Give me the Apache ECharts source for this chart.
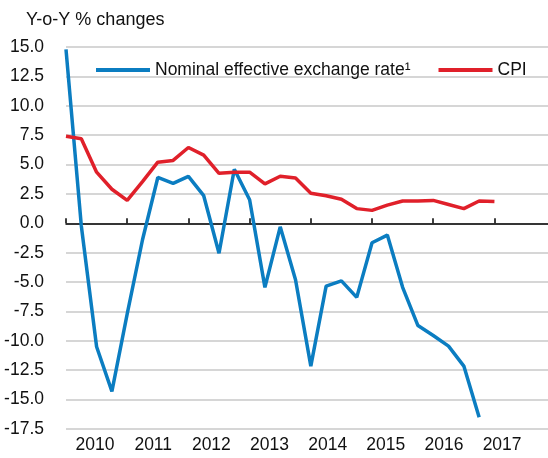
<!DOCTYPE html>
<html>
<head>
<meta charset="utf-8">
<script src="https://cdn.jsdelivr.net/npm/echarts@6/dist/echarts.min.js"></script>
<style>
  html, body { margin: 0; padding: 0; background: #fff; }
  #chart { width: 548px; height: 458px; }
</style>
</head>
<body>
<div id="chart"></div>
<script>
// quarterly points, index 0 = first tick
const years = ['2010', '2011', '2012', '2013', '2014', '2015', '2016', '2017'];
const neer = [14.8, -0.2, -10.5, -14.3, -7.7, -1.4, 3.9, 3.4, 4.0, 2.35, -2.55, 4.6, 2.0, -5.45,
  -0.3, -4.8, -12.15, -5.35, -4.9, -6.3, -1.65, -1.0, -5.45, -8.7, -9.55, -10.45, -12.15, -16.5];
const cpi = [7.4, 7.2, 4.35, 2.9, 1.95, 3.55, 5.2, 5.35, 6.45, 5.8, 4.25, 4.35, 4.35, 3.35, 4.0,
  3.85, 2.55, 2.35, 2.05, 1.25, 1.1, 1.55, 1.9, 1.9, 1.95, 1.6, 1.25, 1.9, 1.85];
const yTicks = [-17.5, 15, 2.5]; // min, max, step

const FONT = '"Liberation Sans", Arial, sans-serif';
const FS = 17.5;

const chart = echarts.init(document.getElementById('chart'));

// year labels sit a bit off the tick grid in the original
const labelPos = years.map((y, k) => +(1.9 + 3.8 * k).toFixed(2));

const option = {
  backgroundColor: '#fff',
  animation: false,
  title: {
    text: 'Y-o-Y % changes',
    left: 21,
    top: 6,
    textStyle: { fontFamily: FONT, fontSize: FS + 0.5, fontWeight: 'normal', color: '#111' }
  },
  legend: {
    left: 91,
    top: 56,
    itemGap: 28,
    itemWidth: 54,
    itemHeight: 4,
    icon: 'rect',
    textStyle: { fontFamily: FONT, fontSize: FS, color: '#111' },
    data: ['Nominal effective exchange rate\u00b9', 'CPI']
  },
  grid: { left: 66, right: 0, top: 47, bottom: 29, outerBoundsMode: 'none' },
  xAxis: [
    {
      type: 'value',
      min: 0,
      max: 31.5,
      axisLine: { onZero: true, lineStyle: { color: '#000', width: 1.5 } },
      axisTick: {
        show: true, inside: true, length: 5,
        customValues: [0, 4, 8, 12, 16, 20, 24, 28],
        lineStyle: { color: '#000', width: 1.5 }
      },
      axisLabel: { show: false },
      splitLine: { show: false }
    },
    {
      type: 'value',
      min: 0,
      max: 31.5,
      position: 'bottom',
      axisLine: { show: false, onZero: false },
      axisTick: { show: false },
      splitLine: { show: false },
      axisLabel: {
        customValues: labelPos,
        margin: 7,
        fontFamily: FONT,
        fontSize: FS,
        color: '#111',
        formatter: (v) => years[labelPos.indexOf(+v.toFixed(2))] || ''
      }
    }
  ],
  yAxis: {
    type: 'value',
    min: yTicks[0],
    max: yTicks[1],
    interval: yTicks[2],
    axisLine: { show: false },
    axisTick: { show: false },
    axisLabel: {
      margin: 22,
      fontFamily: FONT,
      fontSize: FS,
      color: '#111',
      formatter: (v) => v.toFixed(1)
    },
    splitLine: { lineStyle: { color: '#c8c8c8', width: 1.5 } }
  },
  series: [
    {
      name: 'Nominal effective exchange rate\u00b9',
      type: 'line',
      xAxisIndex: 0,
      color: '#0b7dc1',
      symbol: 'none',
      lineStyle: { width: 3.5, color: '#0b7dc1' },
      data: neer.map((v, i) => [i, v]),
      z: 3
    },
    {
      name: 'CPI',
      type: 'line',
      xAxisIndex: 0,
      color: '#e0202a',
      symbol: 'none',
      lineStyle: { width: 3.5, color: '#e0202a' },
      data: cpi.map((v, i) => [i, v]),
      z: 4
    }
  ]
};

chart.setOption(option);
</script>
</body>
</html>
